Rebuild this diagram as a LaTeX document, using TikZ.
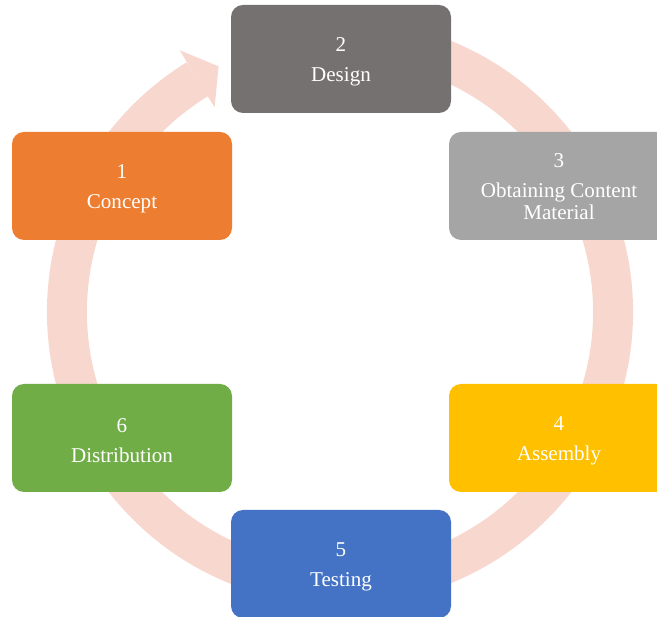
\documentclass[tikz,border=0pt]{standalone}
\usepackage{fontspec}
\usetikzlibrary{calc}
\setmainfont{Liberation Serif}
\definecolor{ringc}{HTML}{F8D8CE}
\definecolor{cgray}{HTML}{767171}
\definecolor{clgray}{HTML}{A5A5A5}
\definecolor{corange}{HTML}{ED7D31}
\definecolor{cgold}{HTML}{FFC000}
\definecolor{cgreen}{HTML}{70AD47}
\definecolor{cblue}{HTML}{4472C4}
\tikzset{
  stagebox/.style={rounded corners=9pt, minimum width=165pt, minimum height=81pt,
    inner sep=0pt},
  stagetext/.style={text=white, align=center, inner sep=0pt,
    font=\fontsize{15.8pt}{16.5pt}\selectfont},
  ringline/.style={draw=ringc, line width=30pt, line cap=butt},
}
\begin{document}
\begin{tikzpicture}[x=0.75pt,y=0.75pt]
\clip (0,0) rectangle (657,617);
\fill[white] (0,0) rectangle (657,617);
\coordinate (c) at (340,305);
% ring with arrow
\draw[ringline] (c) ++(70:273) arc[start angle=70, end angle=-238.5, radius=273];
\coordinate (h1) at ($(c)+(121.5:307)$);
\coordinate (h2) at ($(c)+(121.5:240)$);
\coordinate (ht) at ($(c)+(116.3:274)$);
\fill[ringc] (h1) -- (ht) -- (h2) -- cycle;
% boxes
\node[stagebox, fill=cgray] (b2) at (341,558) {};
\node[stagebox, fill=clgray] (b3) at (559,431) {};
\node[stagebox, fill=corange] (b1) at (122,431) {};
\node[stagebox, fill=cgreen] (b6) at (122,179) {};
\node[stagebox, fill=cgold] (b4) at (559,179) {};
\node[stagebox, fill=cblue] (b5) at (341,53) {};
% texts
\node[stagetext] (t2) at ([yshift=-2.25pt]b2.center) {2\\[6pt]Design};
\node[stagetext] (t3) at ([yshift=-0.75pt]b3.center) {3\\[6pt]Obtaining Content\\Material};
\node[stagetext] (t1) at ([yshift=-2.25pt]b1.center) {1\\[6pt]Concept};
\node[stagetext] (t6) at ([yshift=-2.25pt]b6.center) {6\\[6pt]Distribution};
\node[stagetext] (t4) at ([yshift=-2.25pt]b4.center) {4\\[6pt]Assembly};
\node[stagetext] (t5) at ([yshift=-2.25pt]b5.center) {5\\[6pt]Testing};
\end{tikzpicture}
\end{document}
